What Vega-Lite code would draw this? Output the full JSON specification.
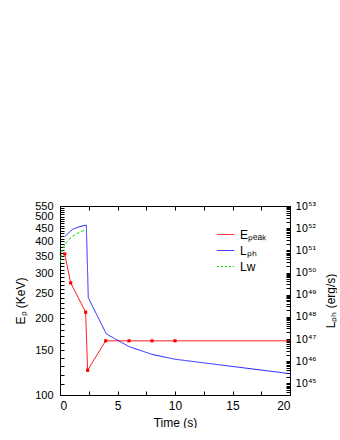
{
  "$schema": "https://vega.github.io/schema/vega-lite/v6.json",
  "width": 230,
  "height": 189,
  "padding": {"left": 14, "top": 200, "right": 0, "bottom": 0},
  "background": "white",
  "datasets": {
    "ep": [
      {"t": 0.41, "Ep": 357, "series": "Epeak"},
      {"t": 0.93, "Ep": 275, "series": "Epeak"},
      {"t": 2.23, "Ep": 211, "series": "Epeak"},
      {"t": 2.4, "Ep": 125, "series": "Epeak"},
      {"t": 3.97, "Ep": 163, "series": "Epeak"},
      {"t": 6, "Ep": 163, "series": "Epeak"},
      {"t": 8, "Ep": 163, "series": "Epeak"},
      {"t": 10, "Ep": 163, "series": "Epeak"},
      {"t": 20, "Ep": 163, "series": "Epeak"}
    ],
    "lum": [
      {"t": 0.45, "L": 4.37e51, "series": "Lph"},
      {"t": 1.07, "L": 8.71e51, "series": "Lph"},
      {"t": 1.65, "L": 1.15e52, "series": "Lph"},
      {"t": 2.29, "L": 1.38e52, "series": "Lph"},
      {"t": 2.46, "L": 7.24e48, "series": "Lph"},
      {"t": 4.03, "L": 1.7e47, "series": "Lph"},
      {"t": 6, "L": 4.57e46, "series": "Lph"},
      {"t": 8, "L": 2.04e46, "series": "Lph"},
      {"t": 10, "L": 1.23e46, "series": "Lph"},
      {"t": 20, "L": 2.75e45, "series": "Lph"},
      {"t": 0.02, "L": 2.82e50, "series": "Lw"},
      {"t": 0.2, "L": 1.1e51, "series": "Lw"},
      {"t": 0.6, "L": 2.51e51, "series": "Lw"},
      {"t": 1.1, "L": 4.37e51, "series": "Lw"},
      {"t": 1.65, "L": 6.31e51, "series": "Lw"},
      {"t": 2.29, "L": 8.71e51, "series": "Lw"}
    ]
  },
  "layer": [
    {
      "data": {"name": "ep"},
      "encoding": {
        "x": {
          "field": "t", "type": "quantitative",
          "scale": {"domain": [0, 20], "nice": false},
          "axis": {
            "orient": "bottom", "title": "Time (s)",
            "values": [0, 2.5, 5, 7.5, 10, 12.5, 15, 17.5, 20],
            "labelExpr": "datum.value % 5 === 0 ? datum.label : ''",
            "tickSize": -4, "labelPadding": 9, "titlePadding": 6,
            "encode": {"ticks": {"update": {"y2": {"signal": "datum.value % 5 === 0 ? -5 : -3"}}}}
          }
        },
        "y": {
          "field": "Ep", "type": "quantitative",
          "scale": {"type": "log", "domain": [100, 550], "nice": false},
          "axis": {
            "orient": "left", "title": "Eₚ (KeV)",
            "values": [100,110,120,130,140,150,160,170,180,190,200,210,220,230,240,250,260,270,280,290,300,310,320,330,340,350,360,370,380,390,400,410,420,430,440,450,460,470,480,490,500,510,520,530,540,550],
            "labelExpr": "datum.value % 50 === 0 ? datum.value + '' : ''",
            "labelOverlap": false, "labelFontSize": 11,
            "tickSize": -4, "labelPadding": 11, "titlePadding": 7,
            "encode": {"ticks": {"update": {"x2": {"signal": "datum.value % 50 === 0 ? 5 : 3"}}}}
          }
        }
      },
      "layer": [
        {
          "mark": {"type": "line", "strokeWidth": 1},
          "encoding": {
            "color": {
              "field": "series", "type": "nominal",
              "scale": {"domain": ["Epeak", "Lph", "Lw"], "range": ["#ff2020", "#2020ff", "#00e000"]},
              "legend": {
                "orient": "none", "legendX": 156, "legendY": 19, "title": null,
                "symbolType": "stroke", "symbolSize": 300, "symbolStrokeWidth": 1,
                "labelFontSize": 12, "labelOffset": 5, "rowPadding": -2,
                "labelExpr": "datum.value === 'Epeak' ? 'Eₚₑₐₖ' : datum.value === 'Lph' ? 'Lₚₕ' : 'Lw'",
                "encode": {"symbols": {"update": {"strokeDash": {"signal": "datum.value === 'Lw' ? [2, 2] : [1, 0]"}}}}
              }
            }
          }
        },
        {
          "transform": [{"filter": "datum.t <= 10"}],
          "mark": {"type": "point", "shape": "square", "filled": true, "size": 10, "color": "#ff0000", "opacity": 1}
        }
      ]
    },
    {
      "data": {"name": "lum"},
      "mark": {"type": "line", "strokeWidth": 1},
      "encoding": {
        "x": {
          "field": "t", "type": "quantitative",
          "scale": {"domain": [0, 20], "nice": false},
          "axis": {
            "orient": "top", "title": null, "labels": false,
            "values": [0, 2.5, 5, 7.5, 10, 12.5, 15, 17.5, 20],
            "tickSize": -4,
            "encode": {"ticks": {"update": {"y2": {"signal": "datum.value % 5 === 0 ? 5 : 3"}}}}
          }
        },
        "y": {
          "field": "L", "type": "quantitative",
          "scale": {"type": "log", "domain": [3e44, 1e53], "nice": false},
          "axis": {
            "orient": "right", "title": "Lₚₕ (erg/s)", "titleAngle": -90,
            "tickCount": 100, "labelOverlap": false, "labelFontSize": 10, "labelFont": "DejaVu Sans",
            "labelExpr": "abs(log(datum.value)/LN10 - round(log(datum.value)/LN10)) < 0.001 ? '10' + substring('⁰¹²³⁴⁵⁶⁷⁸⁹', floor(round(log(datum.value)/LN10)/10), floor(round(log(datum.value)/LN10)/10) + 1) + substring('⁰¹²³⁴⁵⁶⁷⁸⁹', round(log(datum.value)/LN10) % 10, round(log(datum.value)/LN10) % 10 + 1) : ''",
            "tickSize": -4, "labelPadding": 9, "titlePadding": 22,
            "encode": {"ticks": {"update": {"x2": {"signal": "abs(log(datum.value)/LN10 - round(log(datum.value)/LN10)) < 0.001 ? -5 : -3"}}}}
          }
        },
        "color": {
          "field": "series", "type": "nominal",
          "scale": {"domain": ["Epeak", "Lph", "Lw"], "range": ["#ff2020", "#2020ff", "#00e000"]}
        },
        "strokeDash": {
          "field": "series", "type": "nominal",
          "scale": {"domain": ["Lph", "Lw"], "range": [[1, 0], [3, 2]]},
          "legend": null
        }
      }
    }
  ],
  "resolve": {"scale": {"y": "independent"}, "axis": {"x": "independent"}},
  "config": {
    "font": "Liberation Sans",
    "view": {"stroke": "black", "strokeWidth": 1},
    "axis": {
      "grid": false, "domainColor": "black", "tickColor": "black",
      "labelColor": "black", "titleColor": "black",
      "labelFontSize": 12, "titleFontSize": 12, "titleFontWeight": "normal",
      "labelFont": "Liberation Sans", "titleFont": "Liberation Sans"
    },
    "legend": {"labelColor": "black", "labelFont": "Liberation Sans"}
  }
}
